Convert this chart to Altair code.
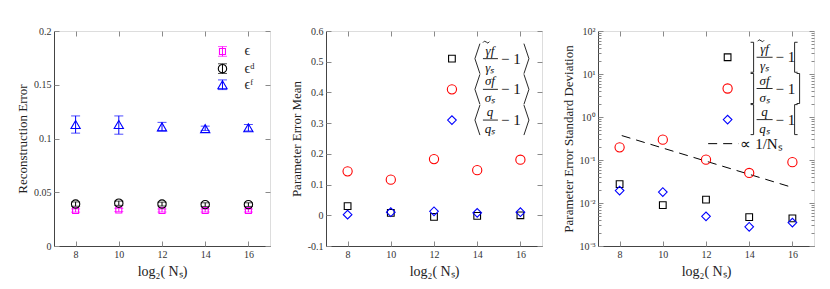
import altair as alt
import pandas as pd

# ---------------- data ----------------
xs = [8, 10, 12, 14, 16]

# panel 1: reconstruction error (mean, lower, upper)
eps_mean = [0.0330, 0.0335, 0.0330, 0.0330, 0.0330]
eps_lo = [0.0315, 0.0320, 0.0316, 0.0316, 0.0316]
eps_hi = [0.0345, 0.0350, 0.0344, 0.0344, 0.0344]
epsd_mean = [0.0390, 0.0398, 0.0390, 0.0385, 0.0385]
epsd_lo = [0.0370, 0.0378, 0.0372, 0.0368, 0.0368]
epsd_hi = [0.0410, 0.0418, 0.0408, 0.0402, 0.0402]
epsf_mean = [0.1130, 0.1130, 0.1108, 0.1092, 0.1100]
epsf_lo = [0.1050, 0.1040, 0.1070, 0.1075, 0.1070]
epsf_hi = [0.1210, 0.1210, 0.1150, 0.1115, 0.1130]

# panel 2: parameter error mean
mean_gamma = [0.030, 0.008, -0.005, -0.002, 0.000]
mean_sigma = [0.143, 0.116, 0.183, 0.147, 0.181]
mean_q = [0.002, 0.010, 0.013, 0.008, 0.010]

# panel 3: parameter error standard deviation
std_gamma = [0.0275, 0.0089, 0.0120, 0.0047, 0.0044]
std_sigma = [0.197, 0.297, 0.102, 0.050, 0.089]
std_q = [0.0194, 0.0180, 0.0049, 0.0028, 0.0035]
ref_x = [8.1, 16.0]
ref_y = [0.37, 0.023]

# legend entries
leg1_labels = ["ϵ", "ϵᵈ", "ϵᶠ"]
leg1_y = [0.181, 0.165, 0.150]
leg_num = ["γf", "σf", "q"]
leg_den = ["γₛ", "σₛ", "qₛ"]
leg2_y = [0.51, 0.41, 0.31]
leg3_y = [24.5, 4.6, 0.87]
leg3_right = ["[", "]", "["]
legline_y = 0.24

# ---------------- style ----------------
W, H = 216, 215
FONT = "Liberation Serif"
GRAY = "#8a8a8a"
DARK = "#444444"
XS = alt.Scale(domain=[7, 17], nice=False, zero=False)
XPX = 10.0 / W  # data units per pixel along x


def axis_layers(yscale, ytitle, ymajor, ylabel_expr=None, yminor=None):
    anchor = pd.DataFrame({"x": [8], "y": [ymajor[1]]})
    base = alt.Chart(anchor).mark_point(opacity=0, size=1)
    ykw = dict(title=ytitle, values=ymajor, ticks=False, domainColor=DARK,
               labelFont=FONT, labelFontSize=10, labelColor="#333333",
               titleFont=FONT, titleFontSize=13, titleFontWeight="normal",
               titleColor="#222222", grid=False, labelPadding=3, titlePadding=4)
    if ylabel_expr:
        ykw["labelExpr"] = ylabel_expr
    else:
        ykw["labelExpr"] = "replace(format(datum.value, '~g'), '\u2212', '-')"
    main = base.encode(
        x=alt.X("x:Q", scale=XS, axis=alt.Axis(
            title="log₂( Nₛ)", values=xs, ticks=False, domainColor=DARK,
            labelFont=FONT, labelFontSize=10, labelColor="#333333",
            titleFont=FONT, titleFontSize=14, titleFontWeight="normal",
            titleColor="#222222", grid=False, labelPadding=3, titlePadding=5)),
        y=alt.Y("y:Q", scale=yscale, axis=alt.Axis(**ykw)),
    )
    tk = dict(labels=False, domain=False, title="", grid=False,
              tickColor=GRAY, tickWidth=1)
    t1 = base.encode(
        x=alt.X("x:Q", scale=XS, axis=alt.Axis(orient="top", offset=-H, values=xs, tickSize=5, **tk)),
        y=alt.Y("y:Q", scale=yscale, axis=alt.Axis(orient="right", offset=-W, values=ymajor, tickSize=5, **tk)),
    )
    t2 = base.encode(
        x=alt.X("x:Q", scale=XS, axis=alt.Axis(orient="bottom", offset=-H, values=xs, tickSize=5, **tk)),
        y=alt.Y("y:Q", scale=yscale, axis=alt.Axis(orient="left", offset=-W, values=ymajor, tickSize=5, **tk)),
    )
    out = [main, t1, t2]
    if yminor:
        m1 = base.encode(
            x=alt.X("x:Q", scale=XS, axis=None),
            y=alt.Y("y:Q", scale=yscale, axis=alt.Axis(orient="right", offset=-W, values=yminor, tickSize=3, **tk)),
        )
        m2 = base.encode(
            x=alt.X("x:Q", scale=XS, axis=None),
            y=alt.Y("y:Q", scale=yscale, axis=alt.Axis(orient="left", offset=-W, values=yminor, tickSize=3, **tk)),
        )
        out += [m1, m2]
    return out


def X():
    return alt.X("x:Q", scale=XS, axis=None)


def Y(yscale, field="y"):
    return alt.Y(f"{field}:Q", scale=yscale, axis=None)


def points(df, yscale, shape, color, size):
    return alt.Chart(df).mark_point(shape=shape, filled=False, color=color,
                                    size=size, strokeWidth=1.1, opacity=1).encode(x=X(), y=Y(yscale))


def lin_shift(span):
    return lambda y, dpx: y - dpx * span / H


def log_shift(decades):
    return lambda y, dpx: y * 10 ** (-dpx * decades / H)


def polylines(shapes, yscale):
    """shapes: list of (anchor_x, anchor_y, shift_fn, [(dx_px, dy_px), ...])"""
    rows = []
    for g, (ax, ay, fn, pts) in enumerate(shapes):
        for o, (dx, dy) in enumerate(pts):
            rows.append({"x": ax + dx * XPX, "y": fn(ay, dy), "g": g, "o": o})
    df = pd.DataFrame(rows)
    return alt.Chart(df).mark_line(color="#111111", strokeWidth=0.9).encode(
        x=X(), y=Y(yscale), detail="g:N", order="o:Q")


def tilde(ax, ay, fn, d_num):
    """small tilde accent above the first numerator glyph"""
    c = d_num - 4
    return (ax, ay, fn, [(c - 3, -16), (c - 1.5, -17.5), (c + 0.5, -16.5), (c + 2, -15.5), (c + 3.5, -17)])


def frac_texts(ax, ys, yscale, d_num, d_minus, dnum_y=-8, dden_y=9):
    df = pd.DataFrame({"x": [ax] * 3, "y": ys, "num": leg_num, "den": leg_den})
    c = alt.Chart(df)
    txt = dict(font=FONT, color="#111111", baseline="middle")
    return [
        c.mark_text(dx=d_num, dy=dnum_y, fontSize=13, fontStyle="italic", align="center", **txt).encode(x=X(), y=Y(yscale), text="num:N"),
        c.mark_text(dx=d_num, dy=dden_y, fontSize=13, fontStyle="italic", align="center", **txt).encode(x=X(), y=Y(yscale), text="den:N"),
        c.mark_text(dx=d_minus, fontSize=15, align="left", text="− 1", **txt).encode(x=X(), y=Y(yscale)),
    ]


# ---------------- panel 1 ----------------
Y1 = alt.Scale(domain=[0, 0.2], nice=False, zero=False)
series1 = [
    (eps_mean, eps_lo, eps_hi, "square", "#FF00FF", 36),
    (epsd_mean, epsd_lo, epsd_hi, "circle", "#000000", 70),
    (epsf_mean, epsf_lo, epsf_hi, "triangle-up", "#0000FF", 85),
]
layers1 = axis_layers(Y1, "Reconstruction Error", [0, 0.05, 0.1, 0.15, 0.2])
leg1_x = 14.8
for i, (m, lo, hi, shape, col, sz) in enumerate(series1):
    df = pd.DataFrame({"x": xs + [leg1_x], "y": m + [leg1_y[i]],
                       "lo": lo + [leg1_y[i] - 0.0045], "hi": hi + [leg1_y[i] + 0.0045]})
    rule = alt.Chart(df).mark_rule(color=col, strokeWidth=1).encode(x=X(), y=Y(Y1, "lo"), y2="hi:Q")
    cap_lo = alt.Chart(df).mark_tick(color=col, orient="horizontal", size=9, thickness=1).encode(x=X(), y=Y(Y1, "lo"))
    cap_hi = alt.Chart(df).mark_tick(color=col, orient="horizontal", size=9, thickness=1).encode(x=X(), y=Y(Y1, "hi"))
    layers1 += [rule, cap_lo, cap_hi, points(df, Y1, shape, col, sz)]
leg1_df = pd.DataFrame({"x": [leg1_x] * 3, "y": leg1_y, "t": leg1_labels})
layers1.append(alt.Chart(leg1_df).mark_text(align="left", baseline="middle", dx=22, font=FONT,
                                            fontSize=14, color="#222222").encode(x=X(), y=Y(Y1), text="t:N"))
p1 = alt.layer(*layers1).resolve_axis(x="independent", y="independent").properties(width=W, height=H)

# ---------------- panel 2 ----------------
Y2 = alt.Scale(domain=[-0.1, 0.6], nice=False, zero=False)
layers2 = axis_layers(Y2, "Parameter Error Mean", [-0.1, 0, 0.1, 0.2, 0.3, 0.4, 0.5, 0.6])
leg2_x = 12.83
series2 = [(mean_gamma, "square", "#000000", 45),
           (mean_sigma, "circle", "#FF0000", 85),
           (mean_q, "diamond", "#0000FF", 75)]
for i, (vals, shape, col, sz) in enumerate(series2):
    df = pd.DataFrame({"x": xs + [leg2_x], "y": vals + [leg2_y[i]]})
    layers2.append(points(df, Y2, shape, col, sz))
f2 = lin_shift(0.7)
shapes2 = []
for yv in leg2_y:
    shapes2.append((leg2_x, yv, f2, [(28, -15), (23, 0), (28, 15)]))   # left angle
    shapes2.append((leg2_x, yv, f2, [(72, -15), (77, 0), (72, 15)]))   # right angle
    shapes2.append((leg2_x, yv, f2, [(31, 0), (46, 0)]))               # fraction bar
shapes2.append(tilde(leg2_x, leg2_y[0], f2, 38))
layers2.append(polylines(shapes2, Y2))
layers2 += frac_texts(leg2_x, leg2_y, Y2, 38, 49)
p2 = alt.layer(*layers2).resolve_axis(x="independent", y="independent").properties(width=W, height=H)

# ---------------- panel 3 ----------------
Y3 = alt.Scale(type="log", domain=[1e-3, 1e2], nice=False)
majors = [1e-3, 1e-2, 1e-1, 1, 10, 100]
minors = [m * d for d in [1e-3, 1e-2, 1e-1, 1, 10] for m in range(2, 10)]
lab3 = "'10' + ['⁻³','⁻²','⁻¹','⁰','¹','²'][round(log(datum.value)/LN10)+3]"
layers3 = axis_layers(Y3, "Parameter Error Standard Deviation", majors, lab3, minors)
leg3_x = 13.0
series3 = [(std_gamma, "square", "#000000", 45),
           (std_sigma, "circle", "#FF0000", 85),
           (std_q, "diamond", "#0000FF", 75)]
ref_df = pd.DataFrame({"x": ref_x, "y": ref_y})
layers3.append(alt.Chart(ref_df).mark_line(color="#000000", strokeDash=[9, 6], strokeWidth=1).encode(x=X(), y=Y(Y3)))
for i, (vals, shape, col, sz) in enumerate(series3):
    df = pd.DataFrame({"x": xs + [leg3_x], "y": vals + [leg3_y[i]]})
    layers3.append(points(df, Y3, shape, col, sz))
f3 = log_shift(5)
shapes3 = []
for yv, rb in zip(leg3_y, leg3_right):
    shapes3.append((leg3_x, yv, f3, [(23, -15), (26, -15), (26, 15), (23, 15)]))   # left "]"
    if rb == "[":
        shapes3.append((leg3_x, yv, f3, [(70, -15), (67, -15), (67, 15), (70, 15)]))
    else:
        shapes3.append((leg3_x, yv, f3, [(69, -15), (72, -15), (72, 15), (69, 15)]))
    shapes3.append((leg3_x, yv, f3, [(29, 0), (45, 0)]))                            # fraction bar
shapes3.append(tilde(leg3_x, leg3_y[0], f3, 37))
layers3.append(polylines(shapes3, Y3))
layers3 += frac_texts(leg3_x, leg3_y, Y3, 37, 48)
legline = pd.DataFrame({"x": [leg3_x - 0.9, leg3_x + 0.5], "y": [legline_y, legline_y]})
layers3.append(alt.Chart(legline).mark_line(color="#000000", strokeDash=[9, 6], strokeWidth=1).encode(x=X(), y=Y(Y3)))
legtxt = pd.DataFrame({"x": [leg3_x + 0.5], "y": [legline_y], "t": ["∝ 1/Nₛ"]})
layers3.append(alt.Chart(legtxt).mark_text(align="left", baseline="middle", dx=2, font=FONT, fontSize=15,
                                           color="#111111").encode(x=X(), y=Y(Y3), text="t:N"))
p3 = alt.layer(*layers3).resolve_axis(x="independent", y="independent").properties(width=W, height=H)

left_pair = alt.hconcat(p1, p2, spacing=18)
chart = alt.hconcat(left_pair, p3, spacing=18).properties(
    padding={"left": 8, "top": 17, "right": 4, "bottom": 0}
).configure_view(stroke=GRAY, strokeWidth=1).configure(background="white")

chart.save("out.html", embed_options={"renderer": "svg", "actions": False})
